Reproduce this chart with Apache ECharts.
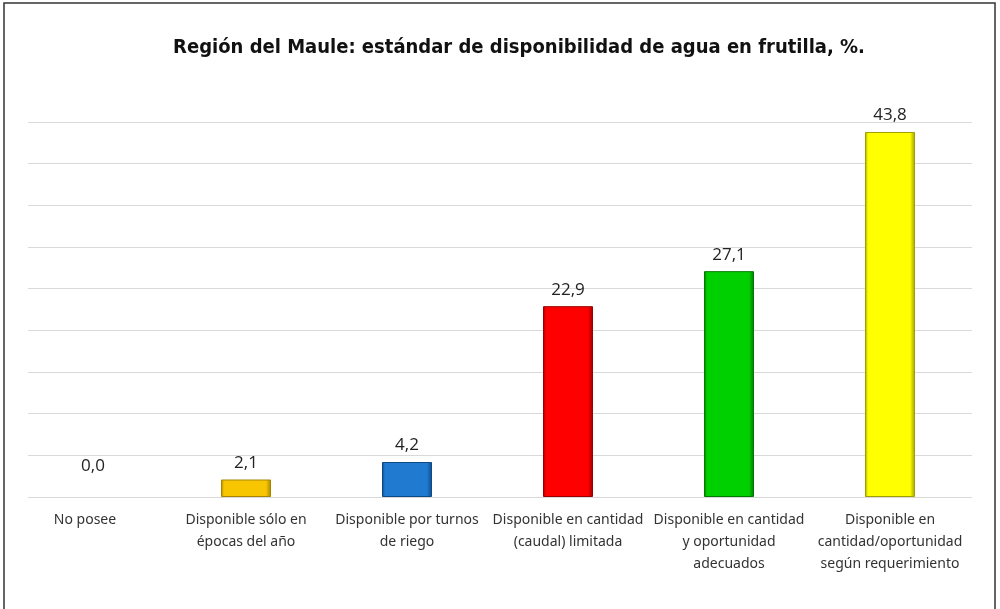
<!DOCTYPE html>
<html>
<head>
<meta charset="utf-8">
<script src="https://cdn.jsdelivr.net/npm/echarts@6/dist/echarts.min.js"></script>
<style>html,body{margin:0;padding:0;background:#fff}#c{width:1000px;height:609px}</style>
</head>
<body>
<div id="c"></div>
<script>
const titleText = 'Región del Maule: estándar de disponibilidad de agua en frutilla, %.';
const categories = [
  'No posee',
  'Disponible sólo en\népocas del año',
  'Disponible por turnos\nde riego',
  'Disponible en cantidad\n(caudal) limitada',
  'Disponible en cantidad\ny oportunidad\nadecuados',
  'Disponible en\ncantidad/oportunidad\nsegún requerimiento'
];
const values = [0.0, 2.1, 4.2, 22.9, 27.1, 43.8];
const barColors = [
  ['#e0e0e0', '#bbbbbb'],
  ['#f7c600', '#a88400'],
  ['#1f7ad0', '#0d4a85'],
  ['#ff0000', '#9a0000'],
  ['#00d000', '#007a00'],
  ['#ffff00', '#a0a000']
];
const yMin = 0, yMax = 45, yStep = 5;

function grad(c) {
  return new echarts.graphic.LinearGradient(0, 0, 1, 0, [
    {offset: 0, color: c[1]},
    {offset: 0.06, color: c[0]},
    {offset: 0.9, color: c[0]},
    {offset: 1, color: c[1]}
  ]);
}

const chart = echarts.init(document.getElementById('c'), null, {renderer: 'canvas'});
chart.setOption({
  backgroundColor: '#ffffff',
  animation: false,
  title: {
    text: titleText,
    left: 514,
    textAlign: 'center',
    top: 33,
    textStyle: {
      fontFamily: '"Liberation Sans Narrow", "DejaVu Sans Condensed", "Roboto Condensed", sans-serif',
      fontWeight: 'bold',
      fontSize: 20,
      color: '#111'
    }
  },
  graphic: [{
    type: 'rect',
    shape: {x: 4, y: 3, width: 991, height: 640},
    style: {fill: 'none', stroke: '#333', lineWidth: 1.5},
    silent: true,
    z: 100
  }],
  grid: [
    {left: 28, right: 28, top: 122, bottom: 112},
    {left: 4.5, right: 29.5, top: 122, bottom: 112}
  ],
  xAxis: [
    {type: 'category', gridIndex: 0, data: categories, show: false},
    {
      type: 'category', gridIndex: 1, data: categories,
      axisLine: {show: false}, axisTick: {show: false},
      axisLabel: {
        interval: 0, margin: 12,
        fontFamily: '"Noto Sans", "Open Sans", sans-serif',
        fontSize: 14, lineHeight: 22, color: '#333'
      }
    }
  ],
  yAxis: [
    {
      type: 'value', gridIndex: 0, min: yMin, max: yMax, interval: yStep,
      axisLabel: {show: false}, axisLine: {show: false}, axisTick: {show: false},
      splitLine: {show: true, lineStyle: {color: '#d9d9d9', width: 1}}
    },
    {
      type: 'value', gridIndex: 1, min: yMin, max: yMax, interval: yStep,
      show: false, splitLine: {show: false}
    }
  ],
  series: [{
    type: 'bar',
    xAxisIndex: 1, yAxisIndex: 1,
    barWidth: 50,
    data: values.map((v, i) => ({
      value: v,
      itemStyle: v === 0
        ? {color: 'transparent', borderWidth: 0}
        : {color: grad(barColors[i]), borderColor: barColors[i][1], borderWidth: 1},
      label: v === 0 ? {distance: 22, offset: [8, 0]} : undefined
    })),
    label: {
      show: true,
      position: 'top',
      distance: 8,
      fontFamily: '"Open Sans", "Noto Sans", sans-serif',
      fontSize: 17,
      color: '#222',
      formatter: p => p.value.toFixed(1).replace('.', ',')
    }
  }]
});
</script>
</body>
</html>
